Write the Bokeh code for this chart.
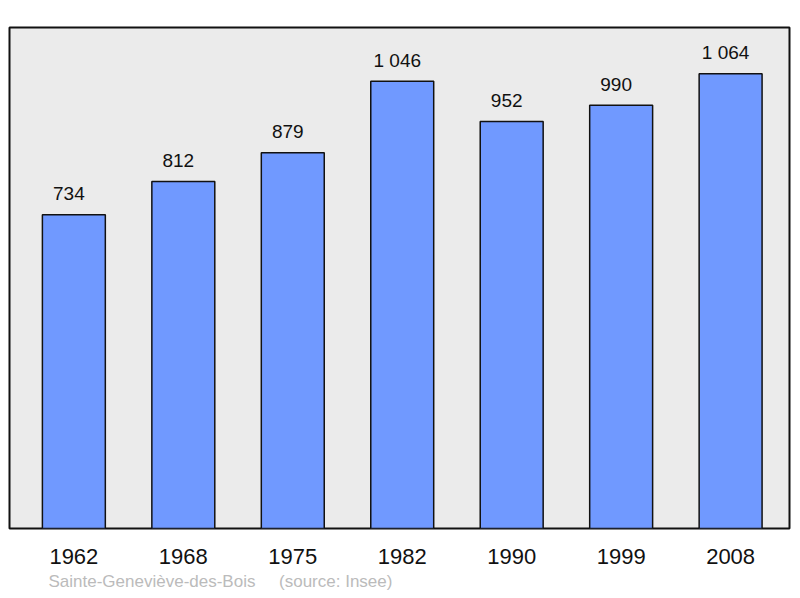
from bokeh.plotting import figure
from bokeh.models import ColumnDataSource, Range1d, FixedTicker, Title
from bokeh.core.properties import value
from bokeh.embed import file_html
from bokeh.resources import INLINE

years = ["1962", "1968", "1975", "1982", "1990", "1999", "2008"]
population = [734, 812, 879, 1046, 952, 990, 1064]
value_labels = [f"{v:,}".replace(",", " ") for v in population]
source_note = "Sainte-Geneviève-des-Bois \u00a0\u00a0\u00a0 (source: Insee)"

idx = list(range(len(years)))
src = ColumnDataSource(dict(x=idx, top=population, lab=value_labels))

p = figure(width=797, height=596, output_backend="svg", toolbar_location=None,
           x_range=Range1d(-0.588, 6.538), y_range=Range1d(0, 1172),
           min_border_left=9, min_border_right=8, min_border_top=27, min_border_bottom=68)
p.background_fill_color = "#ebebeb"
p.border_fill_color = "white"
p.outline_line_color = "#111111"
p.outline_line_width = 2
p.grid.visible = False

p.vbar(x="x", top="top", bottom=0, width=0.575, source=src,
       fill_color="#7099ff", line_color="#111111", line_width=1.5)
p.text(x="x", y="top", text="lab", source=src, text_align="center",
       text_baseline="alphabetic", y_offset=-21, x_offset=-5, text_font_size="19px",
       text_font=value("Liberation Sans"), text_color="#111111")

p.yaxis.visible = False
xa = p.xaxis[0]
xa.ticker = FixedTicker(ticks=idx)
xa.major_label_overrides = {i: y for i, y in zip(idx, years)}
xa.axis_line_color = None
xa.major_tick_line_color = None
xa.minor_tick_line_color = None
xa.major_tick_out = 0
xa.major_tick_in = 0
xa.major_label_standoff = 20
xa.major_label_text_font = "Liberation Sans"
xa.major_label_text_font_size = "22px"
xa.major_label_text_color = "#111111"

t = Title(text=source_note, align="left", offset=39, text_font="Liberation Sans",
          text_font_size="17px", text_font_style="normal", text_color="#bbbbbb",
          standoff=7)
p.add_layout(t, "below")

open("out.html", "w").write(file_html(p, INLINE))
